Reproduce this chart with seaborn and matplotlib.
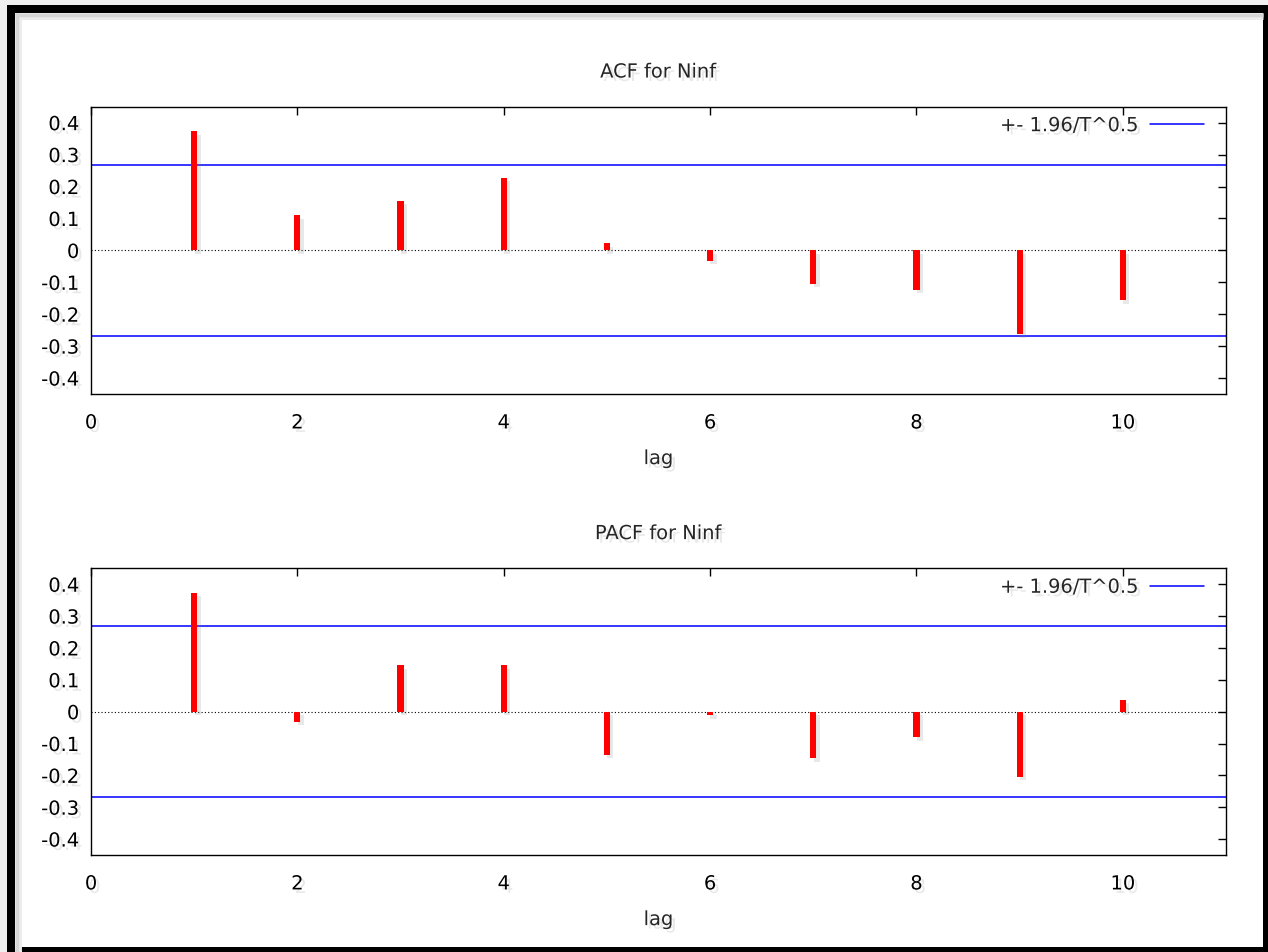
import numpy as np
import matplotlib
matplotlib.use("Agg")
import matplotlib.pyplot as plt
import matplotlib.patheffects as pe
from matplotlib.patches import Rectangle
from matplotlib.lines import Line2D
import seaborn as sns

# values
lags = [1, 2, 3, 4, 5, 6, 7, 8, 9, 10]
acf_vals = [0.373, 0.110, 0.155, 0.227, 0.022, -0.033, -0.104, -0.123, -0.263, -0.157]
pacf_vals = [0.373, -0.031, 0.145, 0.145, -0.135, -0.012, -0.147, -0.080, -0.204, 0.037]
ci_band = 0.268  # 1.96/sqrt(T)

panel_titles = ["ACF for Ninf", "PACF for Ninf"]
legend_label = "+- 1.96/T^0.5"
x_ticks = [0, 2, 4, 6, 8, 10]
y_ticks = [0.4, 0.3, 0.2, 0.1, 0, -0.1, -0.2, -0.3, -0.4]
y_tick_labels = ["0.4", "0.3", "0.2", "0.1", "0", "-0.1", "-0.2", "-0.3", "-0.4"]

sns.set_style("white")
plt.rcParams.update({
    "font.family": ["DejaVu Sans"],
    "font.size": 14,
    "axes.unicode_minus": False,
    "axes.linewidth": 1.0,
    "axes.edgecolor": "black",
})

W, H = 1268, 952
fig = plt.figure(figsize=(W / 100, H / 100), dpi=100)
fig.patch.set_facecolor("#f0f0f0")

# white page with a thick black frame (screenshot border)
fig.patches.append(Rectangle((11 / W, 1 - 951 / H), (1267 - 11) / W, (951 - 9) / H,
                             transform=fig.transFigure, facecolor="white",
                             edgecolor="black", linewidth=5.76, zorder=-3))
for lw, col in [(5, "#ececec"), (2.5, "#d6d6d6")]:
    fig.lines.append(Line2D([(15 + lw / 2 * 100 / 72) / W] * 2, [0.0, 1 - 13 / H],
                            transform=fig.transFigure, color=col, lw=lw,
                            solid_capstyle="butt", zorder=-2))
    fig.lines.append(Line2D([15 / W, 1 - 5 / W], [1 - (13 + lw / 2 * 100 / 72) / H] * 2,
                            transform=fig.transFigure, color=col, lw=lw,
                            solid_capstyle="butt", zorder=-2))

shadow = [pe.withSimplePatchShadow(offset=(2.5, -2.5), shadow_rgbFace="0.5", alpha=0.18)]

left, width = 91 / W, (1226 - 91) / W
boxes = [(1 - 394 / H, (394 - 106.7) / H), (1 - 855 / H, (855 - 568.3) / H)]

for (bottom, height), vals, title in zip(boxes, [acf_vals, pacf_vals], panel_titles):
    ax = fig.add_axes([left, bottom, width, height])
    ax.set_facecolor("none")

    sns.barplot(x=lags, y=vals, native_scale=True, width=0.06, color="#ff0000",
                saturation=1, linewidth=0, errorbar=None, ax=ax, zorder=3)
    for bar in ax.patches:
        bar.set_path_effects(shadow)

    ax.axhline(0, color="black", lw=0.8, ls=(0, (1, 2)), zorder=2)
    ax.axhline(ci_band, color="#0000ff", lw=1.1, label=legend_label, zorder=2)
    ax.axhline(-ci_band, color="#0000ff", lw=1.1, zorder=2)

    ax.set_xlim(0, 11)
    ax.set_ylim(-0.45, 0.45)
    ax.set_xticks(x_ticks)
    ax.set_xticklabels([str(t) for t in x_ticks])
    ax.set_yticks(y_ticks)
    ax.set_yticklabels(y_tick_labels)
    ax.tick_params(axis="both", direction="in", length=6, width=1.0,
                   top=True, right=True, colors="black")
    ax.tick_params(axis="y", pad=8.5)
    ax.tick_params(axis="x", pad=14)
    for s in ax.spines.values():
        s.set_visible(True)
        s.set_linewidth(1.0)

    ax.set_title(title, pad=21, fontsize=14, path_effects=shadow)
    ax.set_xlabel("lag", labelpad=12, path_effects=shadow)
    for lab in ax.get_xticklabels() + ax.get_yticklabels():
        lab.set_path_effects(shadow)

    leg = ax.legend(loc="upper right", bbox_to_anchor=(0.981, 0.967), frameon=False,
                    markerfirst=False, handlelength=2.8, handletextpad=0.55,
                    borderpad=0, borderaxespad=0)
    for t in leg.get_texts():
        t.set_path_effects(shadow)

fig.savefig("out.png", dpi=100, facecolor=fig.get_facecolor())
